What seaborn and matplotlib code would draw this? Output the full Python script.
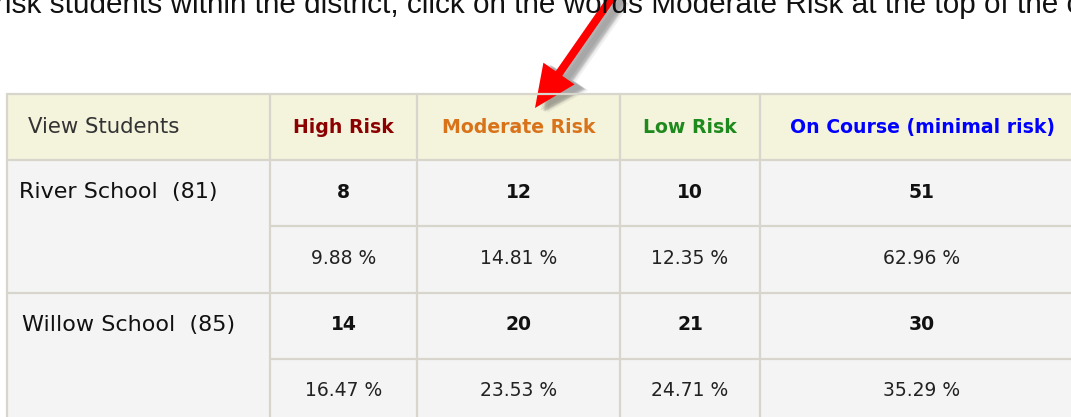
import matplotlib
matplotlib.use("Agg")
import matplotlib.pyplot as plt
import seaborn as sns

# table contents
columns = ["View Students", "High Risk", "Moderate Risk", "Low Risk", "On Course (minimal risk)"]
header_colors = ["#333333", "#8b0000", "#d9731a", "#1e8a1e", "#0000ff"]
schools = ["River School  (81)", "Willow School  (85)"]
river_counts = [8, 12, 10, 51]
river_pcts = ["9.88 %", "14.81 %", "12.35 %", "62.96 %"]
willow_counts = [14, 20, 21, 30]
willow_pcts = ["16.47 %", "23.53 %", "24.71 %", "35.29 %"]
intro = "risk students within the district, click on the words Moderate Risk at the top of the c"

# layout (pixels)
W, H = 1071, 417
col_edges = [7, 270, 417, 620, 760, 1084]
row_edges = [94, 160, 226, 293, 359, 425]
line_col = "#d8d5cc"
header_bg = "#f4f3dc"
body_bg = "#f4f4f4"

sns.set_style("white")
plt.rcParams['font.family'] = ['DejaVu Sans']

fig = plt.figure(figsize=(W / 100, H / 100), dpi=100)
ax = fig.add_axes([0, 0, 1, 1])
ax.set_xlim(0, W)
ax.set_ylim(H, 0)
ax.axis("off")

# backgrounds
ax.fill_between([col_edges[0], col_edges[-1]], row_edges[0], row_edges[1], color=header_bg, lw=0)
ax.fill_between([col_edges[0], col_edges[-1]], row_edges[1], row_edges[-1], color=body_bg, lw=0)

# grid lines
lw = 1.6
for x in col_edges:
    ax.plot([x, x], [row_edges[0], row_edges[-1]], color=line_col, lw=lw)
for i, y in enumerate(row_edges):
    x0 = col_edges[1] if i in (2, 4) else col_edges[0]
    ax.plot([x0, col_edges[-1]], [y, y], color=line_col, lw=lw)

centers = [(col_edges[i] + col_edges[i + 1]) / 2 for i in range(len(col_edges) - 1)]
row_mid = [(row_edges[i] + row_edges[i + 1]) / 2 for i in range(len(row_edges) - 1)]

# header
ax.text(28, row_mid[0], columns[0], ha="left", va="center", fontsize=15.3, color=header_colors[0])
for c, name, col in zip(centers[1:], columns[1:], header_colors[1:]):
    ax.text(c, row_mid[0], name, ha="center", va="center", fontsize=13.6, fontweight="bold", color=col)

# body
ax.text(19, row_mid[1] - 1, schools[0], ha="left", va="center", fontsize=16, color="#111111")
ax.text(22, row_mid[3] - 1, schools[1], ha="left", va="center", fontsize=16, color="#111111")
for r, (counts, pcts) in enumerate([(river_counts, river_pcts), (willow_counts, willow_pcts)]):
    for c, n, p in zip(centers[1:], counts, pcts):
        ax.text(c, row_mid[1 + 2 * r] - 1, str(n), ha="center", va="center",
                fontsize=13.5, fontweight="bold", color="#111111")
        ax.text(c, row_mid[2 + 2 * r] - 1, p, ha="center", va="center", fontsize=13.5, color="#222222")

# clipped instruction line at top
ax.text(-5, 13, intro, ha="left", va="baseline", fontsize=21.4, color="#111111",
        family=["Liberation Sans", "DejaVu Sans"])

# red arrow with soft shadow
tail = (613, -4)
tip = (535, 108)
dx, dy = tip[0] - tail[0], tip[1] - tail[1]
for off, a in [(12, 0.07), (10, 0.1), (9, 0.12), (8, 0.12), (6, 0.1)]:
    ax.arrow(tail[0] + off, tail[1] + off * 0.4, dx, dy, width=12, head_width=42,
             head_length=42, length_includes_head=True, color="#333333", alpha=a, lw=0)
ax.arrow(tail[0], tail[1], dx, dy, width=8, head_width=38, head_length=42,
         length_includes_head=True, color="#ff0000", lw=0)

fig.savefig("out.png", dpi=100)
